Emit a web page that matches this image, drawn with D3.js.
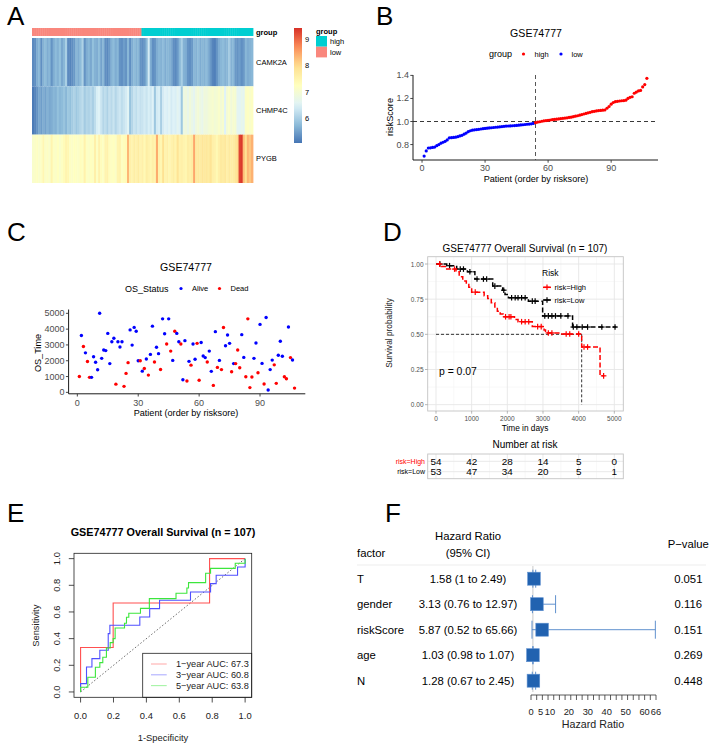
<!DOCTYPE html>
<html><head><meta charset="utf-8">
<script src="https://cdn.jsdelivr.net/npm/d3@7"></script>
<style>body{margin:0;background:#fff}svg{display:block}text{font-family:"Liberation Sans",Arial,Helvetica,sans-serif}</style>
</head><body><svg id="c" width="714" height="745"></svg>
<script>
// ---------------- DATA ----------------
// Panel A: heatmap (columns ordered by risk score, low group first)
const geneNames = ["CAMK2A", "CHMP4C", "PYGB"];
const nLow = 53;
const camk2a = [5.25,5.3,5.6,5.7,5.3,5.65,5.75,5.6,5.7,5.35,5.6,5.75,5.65,5.8,5.55,5.7,6.0,5.25,5.2,5.3,5.4,5.7,5.6,5.75,6.05,5.35,5.6,5.7,5.55,5.8,5.65,5.6,5.75,5.5,5.7,5.3,5.25,5.4,5.65,5.75,5.6,5.7,5.35,5.3,5.45,5.35,5.7,5.3,5.6,5.75,5.65,5.7,5.35,5.3,5.4,5.7,6.4,5.6,5.3,5.35,5.6,5.7,5.65,5.75,5.6,5.7,5.65,5.55,5.3,5.25,5.4,5.7,6.0,5.65,5.6,5.35,5.3,5.4,5.7,5.65,5.75,5.6,5.7,5.65,5.75,5.6,5.4,5.2,5.15,5.35,5.6,5.7,5.75,5.65,5.7,5.95,5.65,5.7,5.4,5.35,5.45,5.3,5.4,5.7,5.6,5.65,5.7];
const chmp4c = [5.1,5.2,5.35,5.55,5.45,5.6,5.5,5.65,5.55,5.6,5.7,5.65,5.8,5.7,5.75,5.85,5.7,5.9,5.8,5.95,6.05,5.9,6.0,6.1,6.2,5.95,6.1,6.05,6.15,6.0,6.2,6.45,6.5,6.3,6.1,6.2,6.05,6.25,6.15,6.3,6.1,6.25,6.35,6.2,6.3,6.4,6.55,5.85,6.1,6.3,6.2,6.35,6.25,6.3,6.4,6.3,6.45,6.35,6.5,5.9,6.4,6.45,6.0,6.4,6.5,6.45,6.55,6.4,6.5,6.45,6.6,6.5,5.9,6.8,6.85,6.7,6.9,6.75,6.6,6.85,6.95,6.8,6.7,6.9,6.85,6.95,7.0,7.05,6.95,7.0,7.1,6.95,7.05,6.5,7.0,7.1,6.9,7.05,7.0,6.6,6.55,6.7,6.6,7.15,7.2,7.1,7.2];
const pygb = [7.1,7.15,7.2,7.1,7.2,7.45,7.15,7.2,7.1,7.5,7.2,7.15,7.25,7.1,7.2,7.35,7.5,7.45,7.2,7.15,7.25,7.2,7.15,7.3,7.2,7.55,7.2,7.15,7.25,7.2,7.6,7.2,7.55,7.3,7.2,7.5,7.55,7.3,7.2,7.25,7.15,7.5,7.55,7.2,7.3,7.35,8.35,7.6,7.5,7.65,7.55,7.7,7.5,7.6,7.4,7.65,7.55,7.45,7.6,7.5,8.45,7.55,7.45,7.95,7.5,7.6,7.45,7.55,7.65,7.5,7.9,7.55,7.6,7.5,7.45,7.65,7.6,7.7,8.5,7.75,7.8,7.7,7.85,7.75,7.8,7.7,7.9,7.6,7.55,7.4,7.6,7.75,7.7,7.8,7.6,7.75,7.65,7.7,7.85,8.0,9.3,9.4,8.3,7.95,8.35,8.2,8.4];
const heatRange = [5.04, 9.46];
const colorbarTicks = [6, 7, 8, 9];

// Panel B: sorted risk scores
const riskScore = [0.700,0.745,0.770,0.772,0.775,0.778,0.790,0.800,0.812,0.820,0.828,0.840,0.858,0.860,0.862,0.864,0.868,0.875,0.880,0.890,0.900,0.912,0.920,0.925,0.928,0.930,0.932,0.935,0.938,0.940,0.942,0.944,0.946,0.948,0.950,0.952,0.954,0.956,0.958,0.960,0.961,0.962,0.963,0.965,0.966,0.968,0.970,0.972,0.974,0.976,0.978,0.980,0.983,
0.990,0.995,0.998,1.002,1.006,1.008,1.010,1.013,1.016,1.018,1.020,1.022,1.025,1.028,1.030,1.032,1.035,1.038,1.042,1.046,1.050,1.055,1.060,1.065,1.070,1.075,1.080,1.085,1.088,1.092,1.095,1.096,1.098,1.100,1.115,1.130,1.150,1.165,1.172,1.175,1.178,1.180,1.182,1.185,1.200,1.210,1.215,1.245,1.255,1.265,1.270,1.300,1.320,1.375];
const riskCut = 54;
const patientTicks = [0, 30, 60, 90];
const riskTicks = [0.8, 1.0, 1.2, 1.4];

// Panel C: survival time & status per patient
const osTime = [1000,3600,2900,2500,1950,950,950,2250,1900,1430,5000,2150,2680,2640,3730,1820,3200,3420,520,3200,2870,3200,380,1200,1880,3950,2990,4110,3870,2000,2000,1340,1510,2110,1090,2400,4190,1920,2850,2450,1450,4650,3710,3060,4650,2610,2020,3870,3730,3200,3060,800,3270,720,1960,1720,3060,2090,3100,770,3150,2300,2200,1920,2610,1330,440,3840,1580,2020,1440,4100,2950,3630,3100,1300,1820,1820,2680,1560,3650,2210,990,4650,300,970,2150,3120,1240,4300,1830,530,4740,150,1440,2040,1740,570,2350,3230,2280,990,860,4130,2200,2050,270];
const osStatus = ["Dead","Alive","Dead","Alive","Dead","Dead","Alive","Alive","Alive","Alive",
"Alive","Alive","Alive","Alive","Alive","Alive","Alive","Alive","Dead","Alive",
"Alive","Alive","Dead","Dead","Dead","Alive","Alive","Alive","Alive","Alive",
"Dead","Alive","Dead","Alive","Dead","Alive","Alive","Dead","Alive","Alive",
"Dead","Alive","Alive","Dead","Alive","Dead","Alive","Dead","Alive","Alive",
"Dead","Alive","Alive","Dead","Alive","Dead","Alive","Alive","Dead","Dead",
"Alive","Alive","Alive","Dead","Alive","Alive","Dead","Alive","Dead","Alive",
"Dead","Dead","Alive","Alive","Alive","Dead","Alive","Dead","Dead","Dead",
"Alive","Alive","Dead","Dead","Dead","Dead","Alive","Alive","Dead","Alive",
"Alive","Dead","Alive","Alive","Alive","Alive","Dead","Dead","Alive","Alive",
"Alive","Dead","Dead","Alive","Dead","Alive","Dead"];
const osTicks = [0, 1000, 2000, 3000, 4000, 5000];

// Panel D: Kaplan-Meier
const kmHighTime = [0,150,300,560,650,750,850,920,1000,1350,1450,1550,1650,1720,1800,1880,2200,2300,2700,3030,3070,3500,4085,4600,4720];
const kmHighSurv = [1,0.982,0.964,0.945,0.91,0.88,0.855,0.835,0.80,0.775,0.755,0.725,0.695,0.665,0.645,0.625,0.605,0.59,0.555,0.53,0.51,0.502,0.41,0.205,0.205];
const kmLowTime = [0,300,580,880,1090,1590,1870,1935,2030,2590,2990,3830,5060];
const kmLowSurv = [1,0.988,0.964,0.945,0.893,0.843,0.814,0.783,0.76,0.736,0.631,0.552,0.552];
const censHigh = [100,520,1100,1950,2050,2100,2400,2500,2600,2850,2950,3150,3250,3650,3750,4000,4150,4250,4700];
const censLow = [110,380,680,770,950,1150,1330,1420,1650,1900,2120,2220,2300,2400,2500,2700,2780,3050,3150,3250,3350,3500,3700,3850,3950,4100,4250,4650,5020];
const medianHigh = 4085;
const timeTicks = [0,1000,2000,3000,4000,5000];
const survTicks = [0, 0.25, 0.5, 0.75, 1];
const riskHigh = [54,42,28,14,5,0];
const riskLow = [53,47,34,20,5,1];

// Panel E: ROC curves
const roc1x = [0,0,0.198,0.198,0.784,0.784,1];
const roc1y = [0,0.333,0.333,0.667,0.667,1,1];
const roc3x = [0,0,0.036,0.036,0.069,0.069,0.117,0.117,0.168,0.168,0.178,0.178,0.36,0.36,0.42,0.42,0.48,0.48,0.668,0.668,0.79,0.79,0.824,0.824,0.954,0.954,1,1];
const roc3y = [0,0.0625,0.0625,0.1875,0.1875,0.25,0.25,0.3125,0.3125,0.4375,0.4375,0.5,0.5,0.5625,0.5625,0.625,0.625,0.6875,0.6875,0.75,0.75,0.8125,0.8125,0.875,0.875,0.9375,0.9375,1];
const roc5x = [0,0,0.044,0.044,0.09,0.09,0.117,0.117,0.135,0.135,0.157,0.157,0.18,0.18,0.198,0.198,0.21,0.21,0.267,0.267,0.279,0.279,0.293,0.293,0.364,0.364,0.418,0.418,0.58,0.58,0.646,0.646,0.656,0.656,0.76,0.76,0.79,0.79,0.94,0.94,1,1];
const roc5y = [0,0.035,0.035,0.11,0.11,0.185,0.185,0.22,0.22,0.26,0.26,0.33,0.33,0.37,0.37,0.40,0.40,0.48,0.48,0.515,0.515,0.56,0.56,0.59,0.59,0.627,0.627,0.70,0.70,0.74,0.74,0.78,0.78,0.82,0.82,0.89,0.89,0.927,0.927,0.965,0.965,1];
const rocLabels = ["1\u2212year AUC: 67.3", "3\u2212year AUC: 60.8", "5\u2212year AUC: 63.8"];
const unitTicks = [0, 0.2, 0.4, 0.6, 0.8, 1.0];

// Panel F: forest plot
const factors = ["T","gender","riskScore","age","N"];
const hr = [1.58, 3.13, 5.87, 1.03, 1.28];
const hrLow = [1, 0.76, 0.52, 0.98, 0.67];
const hrHigh = [2.49, 12.97, 65.66, 1.07, 2.45];
const hrText = ["1.58 (1 to 2.49)","3.13 (0.76 to 12.97)","5.87 (0.52 to 65.66)","1.03 (0.98 to 1.07)","1.28 (0.67 to 2.45)"];
const pValues = ["0.051","0.116","0.151","0.269","0.448"];
const hrTickLabels = [0, 5, 10, 20, 30, 40, 50, 60, 66];

// ---------------- DRAW ----------------
const svg = d3.select("#c");
svg.append("rect").attr("width",714).attr("height",745).attr("fill","#fff");

function T(x, y, s, o = {}) {
  const t = svg.append("text").attr("x", x).attr("y", y).text(s)
    .attr("font-size", o.fs || 10).attr("fill", o.fill || "#000")
    .attr("text-anchor", o.anchor || "start")
    .attr("dominant-baseline", o.db || "central")
    .attr("font-weight", o.fw || "normal");
  if (o.rot) t.attr("transform", `rotate(${o.rot},${x},${y})`);
  return t;
}
function L(x1, y1, x2, y2, o = {}) {
  return svg.append("line").attr("x1",x1).attr("y1",y1).attr("x2",x2).attr("y2",y2)
    .attr("stroke", o.stroke || "#000").attr("stroke-width", o.sw || 1)
    .attr("stroke-dasharray", o.dash || null);
}

// panel letters
[["A",7,25],["B",376,25],["C",7,241],["D",383,241],["E",7,522],["F",385,522]].forEach(d =>
  T(d[1], d[2], d[0], {fs: 26, db: "alphabetic"}));

// ===== Panel A =====
const nPat = camk2a.length;
const xA = d3.scaleLinear().domain([0, nPat]).range([32, 253]);
const yA = d3.scaleBand().domain(geneNames).range([38, 183]);
const pal = ["#4575B4","#91BFDB","#E0F3F8","#FFFFBF","#FEE090","#FC8D59","#D73027"];
const heatColor = d3.scaleLinear()
  .domain(d3.range(7).map(i => heatRange[0] + i * (heatRange[1] - heatRange[0]) / 6))
  .range(pal);
const groupColor = {high: "#00CED1", low: "#F9877D"};
const heatData = [camk2a, chmp4c, pygb];
const gA = svg.append("g");
heatData.forEach((vals, r) => {
  gA.selectAll(null).data(vals).enter().append("rect")
    .attr("x", (d, i) => xA(i)).attr("width", (d, i) => xA(i + 1) - xA(i) + 0.4)
    .attr("y", yA(geneNames[r])).attr("height", yA.bandwidth())
    .attr("fill", d => heatColor(d));
});
gA.selectAll(null).data(d3.range(nPat)).enter().append("rect")
  .attr("x", i => xA(i)).attr("width", i => xA(i + 1) - xA(i) + 0.4)
  .attr("y", 28).attr("height", 8)
  .attr("fill", i => i < nLow ? groupColor.low : groupColor.high);
T(256, 32.5, "group", {fs: 7.5, fw: "bold"});
geneNames.forEach(g => T(256, yA(g) + yA.bandwidth() / 2, g, {fs: 7.5}));
// colorbar
const defs = svg.append("defs");
const grad = defs.append("linearGradient").attr("id", "cb").attr("x1",0).attr("y1",1).attr("x2",0).attr("y2",0);
d3.range(0, 1.0001, 0.05).forEach(p => grad.append("stop").attr("offset", p)
  .attr("stop-color", heatColor(heatRange[0] + p * (heatRange[1] - heatRange[0]))));
const yCB = d3.scaleLinear().domain(heatRange).range([143, 28]);
svg.append("rect").attr("x", 294).attr("y", yCB(heatRange[1])).attr("width", 8)
  .attr("height", yCB(heatRange[0]) - yCB(heatRange[1])).attr("fill", "url(#cb)");
colorbarTicks.forEach(v => T(305, yCB(v), String(v), {fs: 7.5}));
T(316, 31, "group", {fs: 7.5, fw: "bold"});
svg.append("rect").attr("x",316).attr("y",36).attr("width",11).attr("height",10.7).attr("fill",groupColor.high);
svg.append("rect").attr("x",316).attr("y",46.7).attr("width",11).attr("height",10.7).attr("fill",groupColor.low);
T(330, 41.7, "high", {fs: 7.5});
T(330, 52.3, "low", {fs: 7.5});

// ===== Panel B =====
const xB = d3.scaleLinear().domain([-4.3, 112.3]).range([413, 658]);
const yB = d3.scaleLinear().domain([0.666, 1.4035]).range([160, 75]);
const axCol = "#4D4D4D";
L(xB.range()[0], 160, xB.range()[1], 160, {sw: 0.9});
L(413, 75, 413, 160, {sw: 0.9});
patientTicks.forEach(v => { L(xB(v), 160, xB(v), 162.7, {stroke: "#333", sw: 0.9}); T(xB(v), 168, String(v), {fs: 9, anchor: "middle", fill: axCol}); });
riskTicks.forEach(v => { L(410.3, yB(v), 413, yB(v), {stroke: "#333", sw: 0.9}); T(409, yB(v), v.toFixed(1), {fs: 9, anchor: "end", fill: axCol}); });
L(xB(riskCut), 75, xB(riskCut), 160, {stroke: "#444", sw: 0.9, dash: "4,3"});
L(413, yB(1.0), 658, yB(1.0), {stroke: "#222", sw: 0.9, dash: "4,3"});
svg.append("g").selectAll("circle").data(riskScore).enter().append("circle")
  .attr("cx", (d, i) => xB(i + 1)).attr("cy", d => yB(d)).attr("r", 1.6)
  .attr("fill", (d, i) => i < nLow ? "#0000FF" : "#FF0000");
T(536, 33, "GSE74777", {fs: 10.6, anchor: "middle"});
T(489, 54, "group", {fs: 9});
svg.append("circle").attr("cx", 523.5).attr("cy", 54).attr("r", 1.6).attr("fill", "#FF0000");
T(534.5, 54, "high", {fs: 7.5});
svg.append("circle").attr("cx", 561).attr("cy", 54).attr("r", 1.6).attr("fill", "#0000FF");
T(571.5, 54, "low", {fs: 7.5});
T(536, 179, "Patient (order by risksore)", {fs: 9.1, anchor: "middle"});
T(390, 117, "riskScore", {fs: 9.1, anchor: "middle", rot: -90});

// ===== Panel C =====
const xC = d3.scaleLinear().domain([-4.3, 112.3]).range([68.6, 305.3]);
const yC = d3.scaleLinear().domain([-92, 5242]).range([393.8, 309.5]);
L(68.6, 393.8, 305.3, 393.8, {sw: 0.9});
L(68.6, 309.5, 68.6, 393.8, {sw: 0.9});
patientTicks.forEach(v => { L(xC(v), 393.8, xC(v), 396.5, {stroke: "#333", sw: 0.9}); T(xC(v), 402.5, String(v), {fs: 9, anchor: "middle", fill: axCol}); });
osTicks.forEach(v => { L(65.9, yC(v), 68.6, yC(v), {stroke: "#333", sw: 0.9}); T(64.5, yC(v), String(v), {fs: 9, anchor: "end", fill: axCol}); });
svg.append("g").selectAll("circle").data(osTime).enter().append("circle")
  .attr("cx", (d, i) => xC(i + 1)).attr("cy", d => yC(d)).attr("r", 1.7)
  .attr("fill", (d, i) => osStatus[i] === "Dead" ? "#FF0000" : "#0000FF");
T(186, 267, "GSE74777", {fs: 10.6, anchor: "middle"});
T(125, 288.5, "OS_Status", {fs: 9});
svg.append("circle").attr("cx", 181).attr("cy", 288.5).attr("r", 1.6).attr("fill", "#0000FF");
T(192, 288.5, "Alive", {fs: 7.5});
svg.append("circle").attr("cx", 219.5).attr("cy", 288.5).attr("r", 1.6).attr("fill", "#FF0000");
T(230.5, 288.5, "Dead", {fs: 7.5});
T(186, 413, "Patient (order by risksore)", {fs: 9.1, anchor: "middle"});
T(37.5, 353, "OS_Time", {fs: 9.1, anchor: "middle", rot: -90});

// ===== Panel D =====
const xD = d3.scaleLinear().domain([-233, 5252]).range([427.7, 623.3]);
const yD = d3.scaleLinear().domain([-0.045, 1.052]).range([411, 256.7]);
const gridMaj = "#E6E6E6", gridMin = "#F3F3F3", border = "#C4C4C4";
d3.range(500, 5001, 1000).forEach(v => L(xD(v), 256.7, xD(v), 411, {stroke: gridMin, sw: 0.6}));
[0.125, 0.375, 0.625, 0.875].forEach(v => L(427.7, yD(v), 623.3, yD(v), {stroke: gridMin, sw: 0.6}));
timeTicks.forEach(v => L(xD(v), 256.7, xD(v), 411, {stroke: gridMaj, sw: 0.9}));
survTicks.forEach(v => L(427.7, yD(v), 623.3, yD(v), {stroke: gridMaj, sw: 0.9}));
svg.append("rect").attr("x", 427.7).attr("y", 256.7).attr("width", 195.6).attr("height", 154.3)
  .attr("fill", "none").attr("stroke", border).attr("stroke-width", 0.9);
survTicks.forEach(v => { L(425, yD(v), 427.7, yD(v), {stroke: "#999", sw: 0.7}); T(423.5, yD(v), v.toFixed(2), {fs: 6.5, anchor: "end", fill: axCol}); });
timeTicks.forEach(v => { L(xD(v), 411, xD(v), 413.7, {stroke: "#999", sw: 0.7}); T(xD(v), 418.5, String(v), {fs: 6.5, anchor: "middle", fill: axCol}); });
// median lines
L(xD(0), yD(0.5), xD(medianHigh), yD(0.5), {sw: 0.8, dash: "3,2"});
L(xD(medianHigh), yD(0.5), xD(medianHigh), yD(0), {sw: 0.8, dash: "3,2"});
const kmLine = d3.line().x(d => xD(d[0])).y(d => yD(d[1])).curve(d3.curveStepAfter);
function survAt(times, surv, t) { let k = 0; times.forEach((tt, i) => { if (tt <= t) k = i; }); return surv[k]; }
function plus(g, x, y, col, s) {
  g.append("line").attr("x1", x - s).attr("x2", x + s).attr("y1", y).attr("y2", y).attr("stroke", col).attr("stroke-width", 1.2);
  g.append("line").attr("x1", x).attr("x2", x).attr("y1", y - s).attr("y2", y + s).attr("stroke", col).attr("stroke-width", 1.2);
}
const gKM = svg.append("g");
[[kmLowTime, kmLowSurv, censLow, "#000000"], [kmHighTime, kmHighSurv, censHigh, "#FF0000"]].forEach(([tm, sv, cs, col]) => {
  gKM.append("path").attr("d", kmLine(tm.map((t, i) => [t, sv[i]]))).attr("fill", "none")
    .attr("stroke", col).attr("stroke-width", 1.5).attr("stroke-dasharray", "5,2.5");
  cs.forEach(t => plus(gKM, xD(t), yD(survAt(tm, sv, t)), col, 2.8));
});
T(525, 248, "GSE74777 Overall Survival (n = 107)", {fs: 10, anchor: "middle"});
T(389, 333, "Survival probability", {fs: 8.3, anchor: "middle", rot: -90, fill: "#1a1a1a"});
T(525, 427.5, "Time in days", {fs: 8.3, anchor: "middle"});
T(439, 371, "p = 0.07", {fs: 10.4});
T(542, 273, "Risk", {fs: 8.5});
[["risk=High", "#FF0000", 287.3], ["risk=Low", "#000000", 300]].forEach(([lab, col, y]) => {
  L(543, y, 551, y, {stroke: col, sw: 1.5});
  plus(svg, 547, y, col, 2.8);
  T(554.5, y, lab, {fs: 7.5});
});
// risk table
T(525, 444, "Number at risk", {fs: 10, anchor: "middle"});
const rowsY = [461.3, 471.7];
d3.range(500, 5001, 1000).forEach(v => L(xD(v), 454, xD(v), 478.7, {stroke: gridMin, sw: 0.6}));
timeTicks.forEach(v => L(xD(v), 454, xD(v), 478.7, {stroke: gridMaj, sw: 0.9}));
rowsY.forEach(y => L(427.7, y, 623.3, y, {stroke: gridMaj, sw: 0.9}));
svg.append("rect").attr("x", 427.7).attr("y", 454).attr("width", 195.6).attr("height", 24.7)
  .attr("fill", "none").attr("stroke", border).attr("stroke-width", 0.9);
timeTicks.forEach((t, i) => {
  T(xD(t), rowsY[0], String(riskHigh[i]), {fs: 9.9, anchor: "middle"});
  T(xD(t), rowsY[1], String(riskLow[i]), {fs: 9.9, anchor: "middle"});
});
T(425, rowsY[0], "risk=High", {fs: 7, anchor: "end", fill: "#FF0000"});
T(425, rowsY[1], "risk=Low", {fs: 7, anchor: "end"});

// ===== Panel E =====
const xE = d3.scaleLinear().domain([-0.04, 1.04]).range([74, 251.7]);
const yE = d3.scaleLinear().domain([-0.04, 1.04]).range([697.3, 553.3]);
T(163, 532, "GSE74777 Overall Survival (n = 107)", {fs: 10.8, anchor: "middle", fw: "bold"});
L(xE(0), yE(0), xE(1), yE(1), {stroke: "#444", sw: 0.8, dash: "1.5,2"});
const rocLine = d3.line().x(d => xE(d[0])).y(d => yE(d[1]));
const rocCols = ["#FF5050", "#5050FF", "#3CE63C"];
[[roc1x, roc1y], [roc3x, roc3y], [roc5x, roc5y]].forEach(([xs, ys], k) => {
  svg.append("path").attr("d", rocLine(xs.map((x, i) => [x, ys[i]]))).attr("fill", "none")
    .attr("stroke", rocCols[k]).attr("stroke-width", 1.1);
});
svg.append("rect").attr("x", 142.7).attr("y", 653.3).attr("width", 109).attr("height", 44)
  .attr("fill", "#fff").attr("stroke", "#222").attr("stroke-width", 0.8);
rocLabels.forEach((lab, k) => {
  const y = 664 + k * 10.8;
  L(151, y, 166.7, y, {stroke: rocCols[k], sw: 1.1}).attr("opacity", 0.45);
  T(176, y, lab, {fs: 9.2, fill: "#222"});
});
svg.append("rect").attr("x", 74).attr("y", 553.3).attr("width", 177.7).attr("height", 144)
  .attr("fill", "none").attr("stroke", "#222").attr("stroke-width", 0.8);
unitTicks.forEach(v => {
  L(xE(v), 697.3, xE(v), 702.5, {stroke: "#222", sw: 0.8});
  T(xE(v), 715, v.toFixed(1), {fs: 9.4, anchor: "middle", fill: "#222"});
  L(68.8, yE(v), 74, yE(v), {stroke: "#222", sw: 0.8});
  T(57, yE(v), v.toFixed(1), {fs: 9.4, anchor: "middle", rot: -90, fill: "#222"});
});
T(163, 737, "1-Specificity", {fs: 9.4, anchor: "middle", fill: "#222"});
T(36, 625.7, "Sensitivity", {fs: 9.4, anchor: "middle", rot: -90, fill: "#222"});

// ===== Panel F =====
const xF = d3.scaleLinear().domain([0, 66]).range([531, 656]);
const yF = d3.scalePoint().domain(factors).range([578.7, 680.7]);
const fs = 11.3;
T(468, 536, "Hazard Ratio", {fs: fs, anchor: "middle"});
T(468, 552.7, "(95% CI)", {fs: fs, anchor: "middle"});
T(357, 552.7, "factor", {fs: fs});
T(688.3, 544.3, "P\u2212value", {fs: fs, anchor: "middle"});
L(357, 565, 706, 565, {stroke: "#EDEDED", sw: 1});
L(xF(1), 566, xF(1), 692, {stroke: "#C9C9C9", sw: 1});
factors.forEach((f, i) => {
  const y = yF(f);
  T(357, y, f, {fs: fs});
  T(468, y, hrText[i], {fs: fs, anchor: "middle"});
  T(688.3, y, pValues[i], {fs: fs, anchor: "middle"});
  L(xF(hrLow[i]), y, xF(hrHigh[i]), y, {stroke: "#4F86C8", sw: 0.9});
  L(xF(hrLow[i]), y - 9, xF(hrLow[i]), y + 9, {stroke: "#4F86C8", sw: 0.9});
  L(xF(hrHigh[i]), y - 9, xF(hrHigh[i]), y + 9, {stroke: "#4F86C8", sw: 0.9});
  svg.append("rect").attr("x", xF(hr[i]) - 6.3).attr("y", y - 6.5).attr("width", 12.6).attr("height", 13)
    .attr("fill", "#2162B0").attr("stroke", "#5D8FCF").attr("stroke-width", 0.6);
});
L(xF(0), 695, xF(66), 695, {stroke: "#333", sw: 0.8});
d3.range(0, 67, 3).forEach(v => L(xF(v), 695, xF(v), 700, {stroke: "#333", sw: 0.8}));
hrTickLabels.forEach(v => T(xF(v), 711.7, String(v), {fs: 9.3, anchor: "middle", fill: "#222"}));
T(593, 724, "Hazard Ratio", {fs: 10.7, anchor: "middle", fill: "#222"});
</script></body></html>
